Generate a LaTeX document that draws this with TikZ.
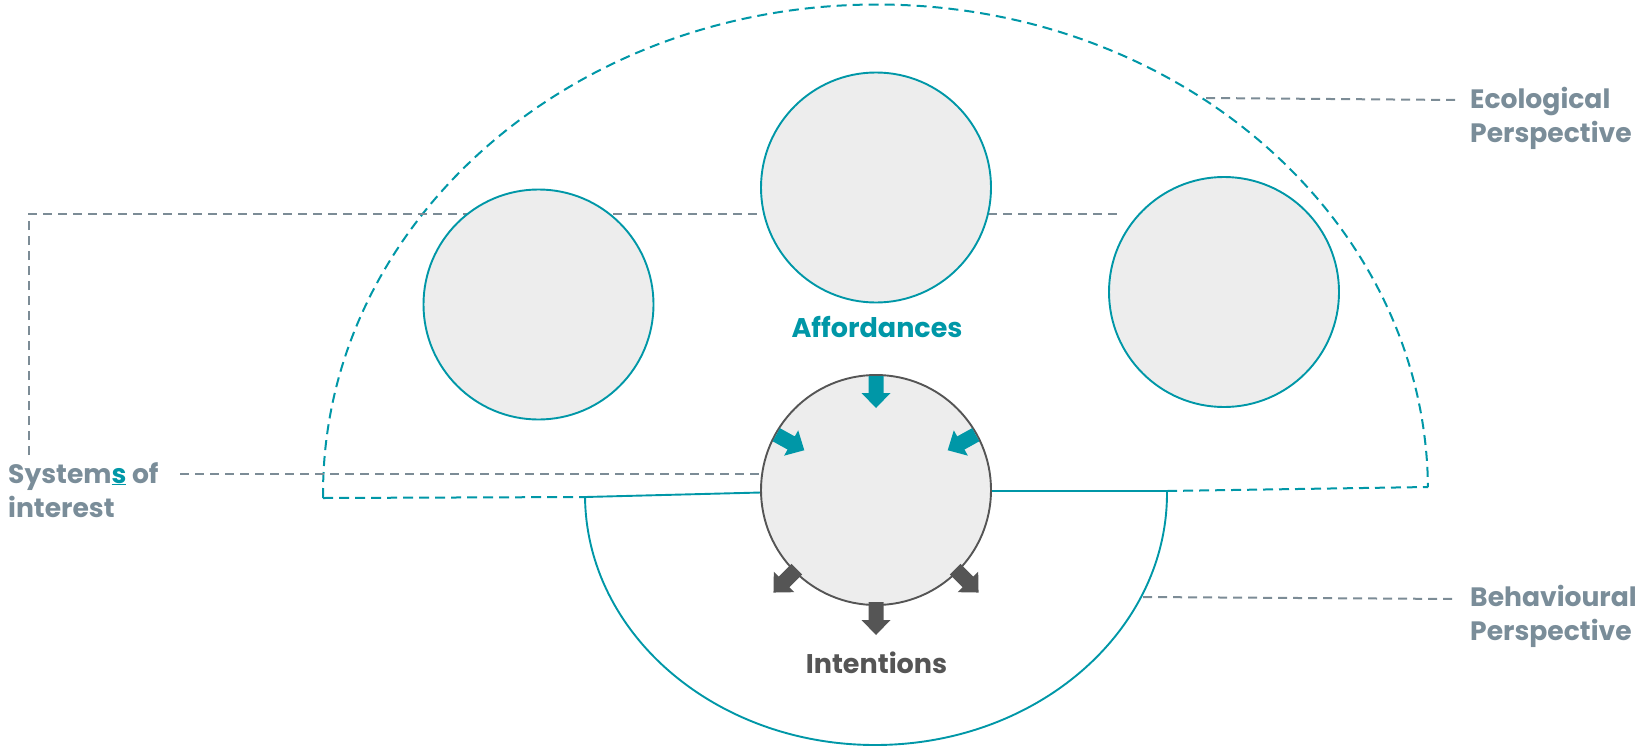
\documentclass[tikz,border=0pt]{standalone}
\usepackage{fontspec}
\setmainfont{Poppins}
\usetikzlibrary{calc}
\definecolor{tealc}{HTML}{0097A7}
\definecolor{labelgrey}{HTML}{7A8D99}
\definecolor{linegrey}{HTML}{7C8C96}
\definecolor{darkc}{HTML}{555555}
\definecolor{fillc}{HTML}{EDEDED}
\tikzset{
  sphere/.style={circle, draw=tealc, line width=1.9pt, fill=fillc, minimum size=230pt, inner sep=0pt},
  centresphere/.style={circle, draw=darkc, line width=1.9pt, fill=fillc, minimum size=230pt, inner sep=0pt},
  leader/.style={draw=linegrey, line width=2pt, dash pattern=on 9pt off 6pt},
  ecoline/.style={draw=tealc, line width=2pt, dash pattern=on 10pt off 6pt},
  behline/.style={draw=tealc, line width=1.9pt},
  lbl/.style={font=\fontsize{26.6}{34}\selectfont\bfseries, text=labelgrey, align=left, inner sep=0pt},
  ttl/.style={font=\fontsize{27}{34}\selectfont\bfseries, inner sep=0pt},
  inarrow/.pic={\fill[tealc] (114,-7.5) -- (97,-7.5) -- (97,-14.5) -- (82,0) -- (97,14.5) -- (97,7.5) -- (114,7.5) -- cycle;},
  outarrow/.pic={\fill[darkc] (112,-7.5) -- (130,-7.5) -- (130,-14.5) -- (145,0) -- (130,14.5) -- (130,7.5) -- (112,7.5) -- cycle;}
}
\begin{document}
\begin{tikzpicture}[x=1pt,y=-1pt]
\useasboundingbox (0,0) rectangle (1637,747);
% coordinates
\coordinate (ecoL) at (323,498);
\coordinate (ecoR) at (1428,487);
\coordinate (behL) at (585,497);
\coordinate (behR) at (1167,491);
\coordinate (soiCorner) at (29,214);
\coordinate (soiBottom) at (29,455);
\coordinate (soiEnd) at (1122,214);
% ecological half-ellipse (dashed)
\draw[ecoline, rotate around={0.57:(875.5,492.5)}] (323,492.5) arc[start angle=180, end angle=0, x radius=552.5pt, y radius=488pt];
\draw[ecoline] (ecoL) -- (behL);
\draw[ecoline] (behR) -- (ecoR);
% behavioural half-ellipse (solid)
\draw[behline, rotate around={0.59:(876,494)}] (585,494) arc[start angle=180, end angle=360, x radius=291pt, y radius=251pt];
\draw[behline] (behL) -- (800,491.5);
\draw[behline] (950,491) -- (behR);
% systems leader
\draw[leader] (soiBottom) -- (soiCorner) -- (soiEnd);
\coordinate (soiStart) at (180,474);
\coordinate (soiStop) at (780,474);
\draw[leader] (soiStart) -- (soiStop);
% circles
\node[sphere] (left) at (538.5,304.5) {};
\node[sphere] (top) at (876,187.5) {};
\node[sphere] (right) at (1224,292) {};
\node[centresphere] (ctr) at (876,490) {};
% arrows
\pic[rotate=90] at (ctr.center) {inarrow};
\pic[rotate=151] at (ctr.center) {inarrow};
\pic[rotate=29] at (ctr.center) {inarrow};
\pic[rotate=-90] at (ctr.center) {outarrow};
\pic[rotate=-135] at (ctr.center) {outarrow};
\pic[rotate=-45] at (ctr.center) {outarrow};
% label leaders
\coordinate (ecoA) at (1206,98);
\coordinate (ecoB) at (1456,100);
\coordinate (behA) at (1143,597);
\coordinate (behB) at (1456,599);
\draw[leader] (ecoA) -- (ecoB);
\draw[leader] (behA) -- (behB);
% texts
\node[lbl, anchor=base west] (eco) at (1470,142) {Ecological\\Perspective};
\node[lbl, anchor=base west] (beh) at (1470,640) {Behavioural\\Perspective};
\node[lbl, anchor=base west] (soi) at (8,517) {System{\color{tealc}\underline{s}} of\\interest};
\node[ttl, text=tealc, anchor=base] (aff) at (877,337) {Affordances};
\node[ttl, text=darkc, anchor=base] (int) at (876.5,673) {Intentions};
\end{tikzpicture}
\end{document}
